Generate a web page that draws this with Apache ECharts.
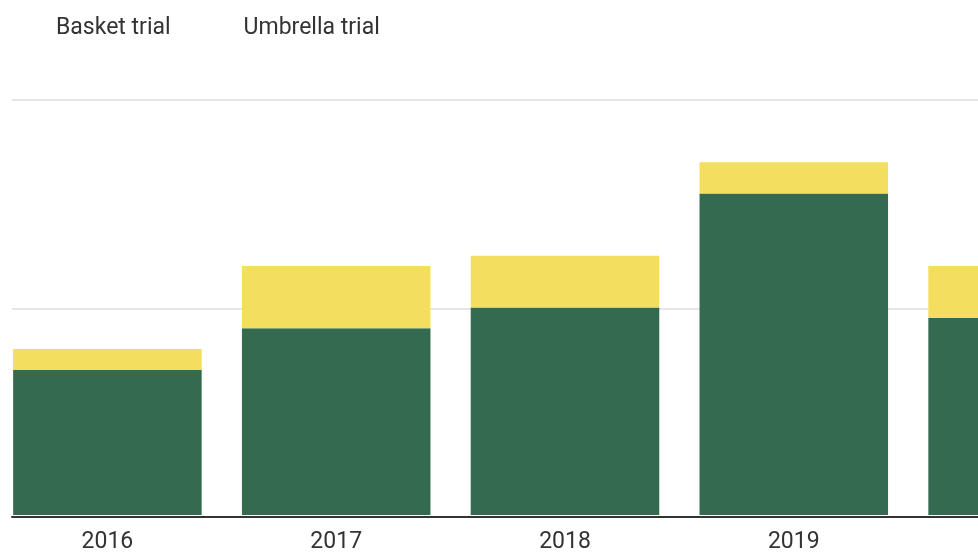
<!DOCTYPE html>
<html>
<head>
<meta charset="utf-8">
<script src="https://cdn.jsdelivr.net/npm/echarts@6/dist/echarts.min.js"></script>
<style>
html,body{margin:0;padding:0;background:#fff;overflow:hidden;width:978px;height:554px;}
#chart{width:1144px;height:554px;margin-left:-7px;}
</style>
</head>
<body>
<div id="chart"></div>
<script>
const years = ['2016', '2017', '2018', '2019', '2020'];
const basketTrial = [14, 18, 20, 31, 19];
const umbrellaTrial = [2, 6, 5, 3, 5];
const yTicks = [0, 20, 40];

const chart = echarts.init(document.getElementById('chart'));
const font = 'Roboto, "Noto Sans", sans-serif';
const option = {
  animation: false,
  backgroundColor: '#ffffff',
  legend: {
    data: ['Basket trial', 'Umbrella trial'],
    left: 53,
    top: 12,
    icon: 'rect',
    itemWidth: 0,
    itemHeight: 0,
    itemGap: 68,
    selectedMode: false,
    textStyle: { fontFamily: font, fontSize: 23, color: '#333333' }
  },
  grid: [
    { left: 0, right: 0, top: 100, bottom: 37, containLabel: false },
    { left: 19, right: 159, top: 100, bottom: 37, containLabel: false }
  ],
  xAxis: [
    {
      type: 'category', gridIndex: 0, data: years,
      axisLine: { show: false }, axisTick: { show: false },
      axisLabel: { fontFamily: font, fontSize: 23, color: '#333333', margin: 16 },
      splitLine: { show: false }
    },
    {
      type: 'category', gridIndex: 1, data: years, z: 10,
      axisLine: { show: true, lineStyle: { color: '#333333', width: 2 } },
      axisTick: { show: false }, axisLabel: { show: false }, splitLine: { show: false }
    }
  ],
  yAxis: [
    {
      type: 'value', gridIndex: 0, min: yTicks[0], max: yTicks[yTicks.length - 1], interval: 20,
      axisLine: { show: false }, axisTick: { show: false }, axisLabel: { show: false },
      splitLine: { show: false }
    },
    {
      type: 'value', gridIndex: 1, min: yTicks[0], max: yTicks[yTicks.length - 1], interval: 20,
      axisLine: { show: false }, axisTick: { show: false }, axisLabel: { show: false },
      splitLine: { show: true, lineStyle: { color: '#e6e6e6', width: 2 } }
    }
  ],
  series: [
    {
      name: 'Basket trial', type: 'bar', stack: 'total', xAxisIndex: 0, yAxisIndex: 0,
      data: basketTrial, barCategoryGap: '17.6%',
      itemStyle: { color: '#346a4f' }
    },
    {
      name: 'Umbrella trial', type: 'bar', stack: 'total', xAxisIndex: 0, yAxisIndex: 0,
      data: umbrellaTrial, barCategoryGap: '17.6%',
      itemStyle: { color: '#f3de5e' }
    }
  ]
};
chart.setOption(option);
</script>
</body>
</html>
